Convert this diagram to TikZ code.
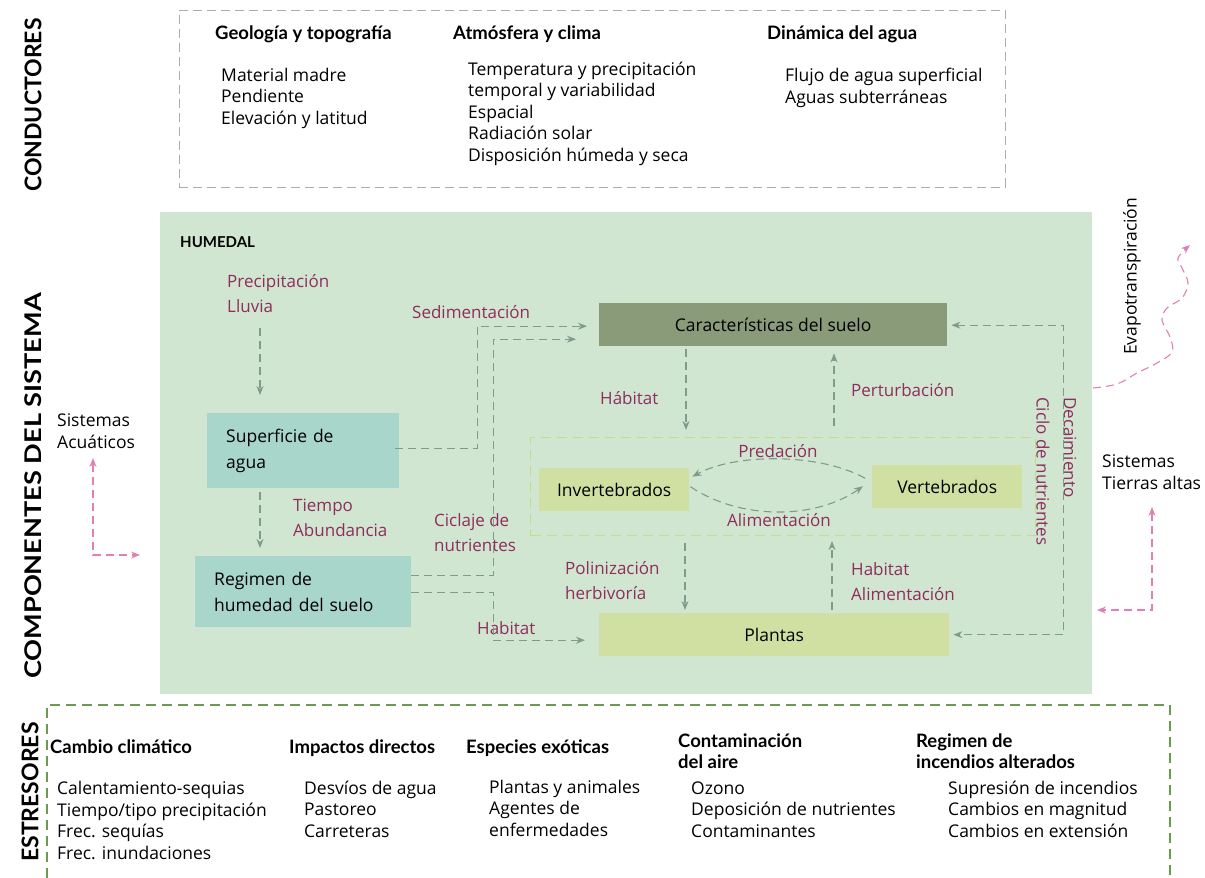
\documentclass[tikz,border=0pt]{standalone}
\usepackage{fontspec}
\setmainfont{Open Sans}
\newfontfamily\latof{Lato}
\usetikzlibrary{arrows.meta}
\definecolor{humc}{HTML}{D0E6D1}
\definecolor{tealc}{HTML}{A8D6CA}
\definecolor{soilc}{HTML}{8A9B7A}
\definecolor{ygc}{HTML}{D0E0A3}
\definecolor{arrowc}{HTML}{7F9B8B}
\definecolor{maroon}{HTML}{8E2D5E}
\definecolor{pinkc}{HTML}{E080B5}
\definecolor{topdash}{HTML}{A8AFA8}
\definecolor{botdash}{HTML}{6E9A50}
\definecolor{faunadash}{HTML}{C3DC85}
\begin{document}
\begin{tikzpicture}[x=1pt,y=-1pt,
  body/.style={font=\fontsize{17.5}{21.4}\selectfont, align=left, inner sep=0pt, anchor=base west},
  hd/.style={font=\latof\bfseries\fontsize{18.5}{21}\selectfont, align=left, inner sep=0pt, anchor=base west},
  lab/.style={font=\fontsize{17}{25}\selectfont, align=left, inner sep=0pt, anchor=base west, text=maroon},
  side/.style={font=\latof\bfseries\fontsize{23}{23}\selectfont, rotate=90, inner sep=0pt},
  bx/.style={anchor=north west, inner ysep=0pt, font=\fontsize{17.5}{25.5}\selectfont},
  flow/.style={draw=arrowc, line width=1.1pt, dash pattern=on 8pt off 5pt, -{Stealth[length=9pt,width=7pt]}},
  pflow/.style={draw=pinkc, line width=1.1pt, dash pattern=on 8pt off 5pt, -{Stealth[length=9pt,width=7pt]}},
  tips/.style={{Stealth[length=9pt,width=7pt]}-{Stealth[length=9pt,width=7pt]}}
]
\useasboundingbox (0,0) rectangle (1205,878);

% side titles
\node[side] (tcond) at (33,105) {CONDUCTORES};
\node[side] (tcomp) at (33,486) {\scalebox{1.18}[1]{COMPONENTES DEL SISTEMA}};
\node[side] (testr) at (30,792) {ESTRESORES};

% conductores box
\node[draw=topdash, line width=0.9pt, dash pattern=on 9pt off 5pt, minimum width=826, minimum height=177, anchor=north west, inner sep=0pt] (cond) at (179,10) {};
\node[hd] (h1) at (215,39) {Geología y topografía};
\node[hd] (h2) at (453,39) {Atmósfera y clima};
\node[hd] (h3) at (767,39) {Dinámica del agua};
\node[body] (l1) at (221,124) {Material madre\\Pendiente\\Elevación y latitud};
\node[body] (l2) at (468,161) {Temperatura y precipitación\\temporal y variabilidad\\Espacial\\Radiación solar\\Disposición húmeda y seca};
\node[body] (l3) at (785,103) {Flujo de agua superficial\\Aguas subterráneas};

% humedal
\node[fill=humc, minimum width=932, minimum height=482, anchor=north west, inner sep=0pt] (hum) at (160,212) {};
\node[font=\latof\bfseries\fontsize{15}{15}\selectfont, inner sep=0pt, anchor=base west] (humt) at (180,247) {HUMEDAL};

% boxes
\node[bx, fill=tealc, minimum width=192, minimum height=75, inner xsep=19pt, text width=154, align=left] (sup) at (207,413) {Superficie de\\agua};
\node[bx, fill=tealc, minimum width=216, minimum height=71, inner xsep=19pt, text width=178, align=left] (reg) at (195,556) {Regimen de\\humedad del suelo};
\node[bx, fill=soilc, minimum width=348, minimum height=43, align=center] (suelo) at (599,303) {Características del suelo};
\node[draw=faunadash, line width=1.1pt, dash pattern=on 10pt off 6pt, minimum width=505, minimum height=98, anchor=north west, inner sep=0pt] (fauna) at (530,437) {};
\node[bx, fill=ygc, minimum width=150, minimum height=43, align=center] (inv) at (539,468) {Invertebrados};
\node[bx, fill=ygc, minimum width=150, minimum height=43, align=center] (vert) at (872,465) {Vertebrados};
\node[bx, fill=ygc, minimum width=350, minimum height=43, align=center] (plant) at (599,613) {Plantas};

% labels
\node[lab] (lprec) at (227,312) {Precipitación\\Lluvia};
\node[lab] (lsed) at (412,318) {Sedimentación};
\node[lab] (ltiem) at (293,536) {Tiempo\\Abundancia};
\node[lab] (lcic) at (434,551) {Ciclaje de\\nutrientes};
\node[lab] (lhab1) at (477,634) {Habitat};
\node[lab] (lhab2) at (600,404) {Hábitat};
\node[lab] (lpert) at (851,396) {Perturbación};
\node[lab, anchor=center] (lpred) at (778,451) {Predación};
\node[lab, anchor=center] (lalim) at (779,520) {Alimentación};
\node[lab] (lpol) at (565,599) {Polinización\\herbivoría};
\node[lab] (lhab3) at (851,600) {Habitat\\Alimentación};
\node[lab, rotate=-90, anchor=west] (ldec) at (1070,397) {Decaimiento};
\node[lab, rotate=-90, anchor=west] (lcn) at (1043,397) {Ciclo de nutrientes};

% outside texts
\node[body] (sacu) at (57,448) {Sistemas\\Acuáticos};
\node[body] (stie) at (1102,489) {Sistemas\\Tierras altas};
\node[body, rotate=90, anchor=west] (evap) at (1132,355) {Evapotranspiración};

% coordinates for vertical flows
\coordinate (cx260) at (260,0);
\coordinate (cx686) at (686,0);
\coordinate (cx834) at (834,0);
\coordinate (cx685) at (685,0);
\coordinate (cx832) at (832,0);
\coordinate (prtop) at (260,328);

% flows
\draw[flow, shorten >=18pt] (prtop) -- (prtop |- sup.north);
\draw[flow, shorten <=4pt, shorten >=8pt] (cx260 |- sup.south) -- (cx260 |- reg.north);
\draw[flow, shorten >=12pt] ([xshift=-4pt,yshift=2.5pt]sup.east) -- ++(82,0) |- ([yshift=-1.5pt]suelo.west);
\draw[flow, shorten >=23pt] ([yshift=16.5pt]reg.east) -- ++(82,0) |- ([yshift=-14.5pt]suelo.west);
\draw[flow, shorten >=14pt] ([yshift=-0.5pt]reg.east) -- ++(82,0) |- ([yshift=-5.5pt]plant.west);
\draw[flow, shorten <=3pt, shorten >=7pt] (cx686 |- suelo.south) -- (cx686 |- fauna.north);
\draw[flow, shorten <=11pt, shorten >=7pt] (cx834 |- fauna.north) -- (cx834 |- suelo.south);
\draw[flow, shorten <=7pt, shorten >=3pt] (cx685 |- fauna.south) -- (cx685 |- plant.north);
\draw[flow, shorten <=3pt, shorten >=5pt] (cx832 |- plant.north) -- (cx832 |- fauna.south);
\draw[flow, tips, shorten <=4pt, shorten >=4pt] ([yshift=-0.5pt]suelo.east) -| ([xshift=114pt]plant.east) -- (plant.east);
\draw[flow] ([shift={(-7pt,8.5pt)}]vert.west) .. controls (820,453) and (735,453) .. ([shift={(3pt,13pt)}]inv.east);
\draw[flow] ([shift={(1pt,3pt)}]inv.east) .. controls (740,520) and (815,520) .. ([shift={(-9pt,0.5pt)}]vert.west);

% pink flows
\coordinate (aq1) at (93,458);
\coordinate (aq2) at (140,555);
\draw[pflow, tips] (aq1) |- (aq2);
\coordinate (ta1) at (1152,507);
\coordinate (ta2) at (1097,610);
\draw[pflow, tips] (ta1) |- (ta2);
\draw[pflow] plot[smooth, tension=0.6] coordinates {(1093,388) (1117,384) (1137,373) (1157,363) (1172,352) (1170,337) (1162,320) (1167,308) (1182,298) (1188,283) (1182,268) (1178,258) (1190,245)};

% estresores
\draw[draw=botdash, line width=1.1pt, dash pattern=on 10pt off 6pt] (47,878) -- (47,705) -- (1170,705) -- (1170,878);
\node[hd] (e1) at (50,753) {Cambio climático};
\node[hd] (e2) at (289,753) {Impactos directos};
\node[hd] (e3) at (466,753) {Especies exóticas};
\node[hd] (e4) at (678,768) {Contaminación\\del aire};
\node[hd] (e5) at (916,768) {Regimen de\\incendios alterados};
\node[body] (i1) at (57,859) {Calentamiento-sequias\\Tiempo/tipo precipitación\\Frec. sequías\\Frec. inundaciones};
\node[body] (i2) at (304,837) {Desvíos de agua\\Pastoreo\\Carreteras};
\node[body] (i3) at (489,836) {Plantas y animales\\Agentes de\\enfermedades};
\node[body] (i4) at (691,837) {Ozono\\Deposición de nutrientes\\Contaminantes};
\node[body] (i5) at (948,837) {Supresión de incendios\\Cambios en magnitud\\Cambios en extensión};
\end{tikzpicture}
\end{document}
